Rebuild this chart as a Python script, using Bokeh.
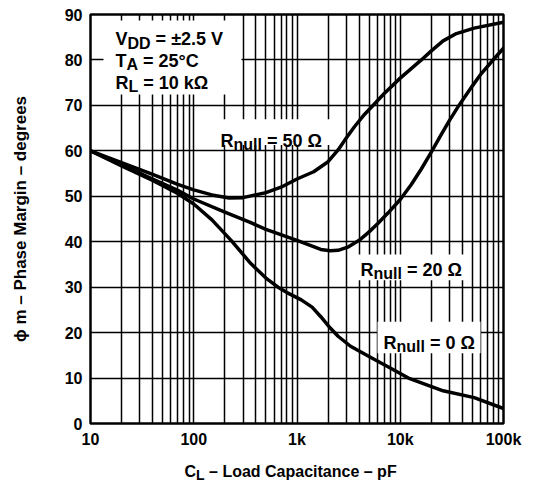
from bokeh.plotting import figure
from bokeh.layouts import column
from bokeh.models import FixedTicker, Label, BoxAnnotation
from bokeh.embed import file_html
from bokeh.resources import INLINE

# ---- data ----
cap_50 = [10, 20, 40, 70, 100, 150, 220, 300, 500, 700, 1000, 1450, 2000, 2500, 3000,
          3600, 4500, 5500, 7000, 10000, 16000, 20000, 26000, 35000, 52000, 100000]
pm_50 = [60, 57.4, 54.8, 52.6, 51.4, 50.3, 49.6, 49.7, 50.8, 52.0, 53.8, 55.4, 57.6, 60.2, 62.8,
         65.3, 68.0, 70.1, 72.6, 76.0, 80.0, 82.0, 84.2, 85.8, 87.0, 88.3]

cap_20 = [10, 20, 40, 70, 100, 200, 357, 500, 1000, 1700, 2100, 2500, 3100, 4000, 4900, 6000,
          7600, 10000, 12800, 16000, 19600, 25000, 30000, 37000, 50000, 61000, 80000, 100000]
pm_20 = [60, 56.9, 53.8, 51.3, 49.4, 46.5, 44.2, 42.7, 40.3, 38.3, 38.0, 38.1, 38.8, 40.3, 42.0,
         43.9, 46.3, 49.3, 52.6, 56.0, 59.4, 63.6, 66.7, 70.0, 74.3, 77.0, 80.1, 82.6]

cap_0 = [10, 20, 40, 70, 100, 150, 230, 357, 500, 655, 800, 1100, 1400, 1700, 2100, 2500,
         3300, 5300, 7600, 12000, 26000, 52000, 100000]
pm_0 = [60, 56.7, 53.5, 50.6, 48.3, 44.8, 40.3, 35.2, 32.0, 30.0, 28.8, 27.2, 25.6, 23.5, 21.0, 19.2,
        17.0, 14.4, 12.5, 10.0, 7.2, 5.7, 3.3]

x_ticks = [10, 100, 1000, 10000, 100000]
x_tick_labels = ["10", "100", "1k", "10k", "100k"]
y_ticks = [0, 10, 20, 30, 40, 50, 60, 70, 80, 90]

# ---- layout ----
W, H1, H2 = 530, 450, 32
FL, FT, FR, FB = 90, 14, 503, 428   # frame edges (px)
FONT = "Liberation Sans"

p = figure(width=W, height=H1, x_axis_type="log", x_range=(10, 100000), y_range=(0, 90),
           output_backend="svg", toolbar_location=None, title=None,
           min_border_left=FL, min_border_right=W - FR, min_border_top=FT,
           min_border_bottom=H1 - FB)
p.background_fill_color = "white"
p.border_fill_color = "white"
p.outline_line_color = "black"
p.outline_line_width = 2.5

grid_x = [m * d for d in [10, 100, 1000, 10000] for m in range(1, 10)] + [100000]
p.xgrid.ticker = FixedTicker(ticks=grid_x)
p.ygrid.ticker = FixedTicker(ticks=y_ticks)
for g in (p.xgrid, p.ygrid):
    g.grid_line_color = "black"
    g.grid_line_width = 1.5
    g.grid_line_alpha = 1.0

p.xaxis.ticker = FixedTicker(ticks=x_ticks)
p.xaxis.major_label_overrides = {t: s for t, s in zip(x_ticks, x_tick_labels)}
p.yaxis.ticker = FixedTicker(ticks=y_ticks)
for ax in (p.xaxis, p.yaxis):
    ax.axis_line_color = None
    ax.major_tick_line_color = None
    ax.minor_tick_line_color = None
    ax.major_tick_in = 0
    ax.major_tick_out = 0
    ax.major_label_text_font = FONT
    ax.major_label_text_font_style = "bold"
    ax.major_label_text_font_size = "16px"
    ax.major_label_text_color = "black"
p.xaxis.major_label_standoff = 7
p.yaxis.major_label_standoff = 8
p.yaxis.axis_label = "\u03d5 m \u2013 Phase Margin \u2013 degrees"
p.yaxis.axis_label_text_font = FONT
p.yaxis.axis_label_text_font_style = "bold"
p.yaxis.axis_label_text_font_size = "17px"
p.yaxis.axis_label_text_color = "black"
p.yaxis.axis_label_standoff = 32


def cx(px):
    return 10 ** (1 + 4 * (px - FL) / (FR - FL))


def cy(py):
    return 90 * (FB - py) / (FB - FT)


# white text-background boxes
for (l, r, t, b) in [(103, 241, 20, 95), (205, 334, 120, 146), (353, 464, 257, 283), (377, 480, 325, 357)]:
    p.add_layout(BoxAnnotation(left=cx(l), right=cx(r), top=cy(t), bottom=cy(b),
                               fill_color="white", fill_alpha=1.0, line_color=None,
                               level="underlay"))

# curves
for xs, ys in [(cap_50, pm_50), (cap_20, pm_20), (cap_0, pm_0)]:
    p.line(xs, ys, line_color="black", line_width=3.5, line_join="round", line_cap="round")

WID = {' ': 278, '=': 584, '\u00b1': 584, '.': 278, 'V': 667, 'D': 722, 'T': 611, 'A': 722,
       'R': 722, 'L': 611, 'C': 722, 'k': 556, '\u03a9': 768, '\u00b0': 400, 'n': 611,
       'u': 611, 'l': 278, 'o': 611, 'a': 556, 'd': 611, 'p': 611, 'c': 556, 'i': 278,
       't': 333, 'e': 556, 'F': 611, '\u2013': 556}


def tw(s, size):
    return sum(WID.get(c, 556) for c in s) * size / 1000.0


def compose(fig, parts, x0, base, fx, fy):
    x = x0
    for text, size, drop in parts:
        stripped = text.lstrip(" ")
        x += tw(text[:len(text) - len(stripped)], size)
        fig.add_layout(Label(x=fx(x), y=fy(base + drop), text=stripped, text_font=FONT,
                             text_font_style="bold", text_font_size=f"{size}px",
                             text_baseline="alphabetic", text_align="left", text_color="black"))
        x += tw(stripped, size)


compose(p, [("V", 18, 0), ("DD", 16, 4), (" = \u00b12.5 V", 18, 0)], 115, 39, cx, cy)
compose(p, [("T", 18, 0), ("A", 16, 4), (" = 25\u00b0C", 18, 0)], 115, 61, cx, cy)
compose(p, [("R", 18, 0), ("L", 16, 4), (" = 10 k\u03a9", 18, 0)], 115, 83, cx, cy)
compose(p, [("R", 18, 0), ("null", 16, 3.5), (" = 50 \u03a9", 18, 0)], 220, 142, cx, cy)
compose(p, [("R", 18, 0), ("null", 16, 3.5), (" = 20 \u03a9", 18, 0)], 360, 273, cx, cy)
compose(p, [("R", 18, 0), ("null", 16, 3.5), (" = 0 \u03a9", 18, 0)], 383, 347, cx, cy)

# x-axis title strip (with subscript); its frame is aligned with the main frame
p2 = figure(width=W, height=H2, x_range=(FL, FR), y_range=(0, H2), output_backend="svg",
            toolbar_location=None, x_axis_location=None, y_axis_location=None, title=None,
            min_border=0, min_border_left=FL, min_border_right=W - FR, min_border_top=0,
            min_border_bottom=0)
p2.outline_line_color = None
p2.grid.visible = False
p2.background_fill_color = "white"
p2.border_fill_color = "white"
compose(p2, [("C", 16, 0), ("L", 14, 3), (" \u2013 Load Capacitance \u2013 pF", 16, 0)], 184, 471,
        lambda v: v, lambda v: H1 + H2 - v)

layout = column(p, p2, spacing=0)
open("out.html", "w").write(file_html(layout, INLINE))
